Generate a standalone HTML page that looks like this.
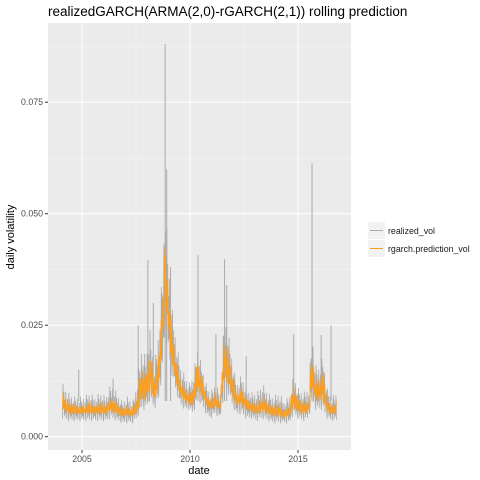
<!DOCTYPE html>
<html><head><meta charset="utf-8"><style>
body{margin:0;background:#fff}
svg{display:block;font-family:"Liberation Sans",sans-serif}
</style></head><body>
<svg id="c" width="480" height="480">
<text x="48" y="16" font-size="13.5" fill="#000">realizedGARCH(ARMA(2,0)-rGARCH(2,1)) rolling prediction</text>
<rect x="48" y="23" width="303" height="427" fill="#ebebeb"/>
<g id="grid"></g>
<g id="series"></g>
<g id="axes"></g>
<text x="199" y="474" font-size="11" text-anchor="middle">date</text>
<text transform="translate(14,237) rotate(-90)" font-size="11" text-anchor="middle">daily volatility</text>
<g>
<rect x="368" y="222" width="17" height="17" fill="#f2f2f2"/>
<line x1="370" y1="230.5" x2="383" y2="230.5" stroke="#aaa" stroke-width="1"/>
<text x="388" y="234" font-size="8.8" fill="#1a1a1a">realized_vol</text>
<rect x="368" y="240" width="17" height="17" fill="#f2f2f2"/>
<line x1="370" y1="248.5" x2="383" y2="248.5" stroke="#ff9e1b" stroke-width="1"/>
<text x="388" y="252" font-size="8.8" fill="#1a1a1a">rgarch.prediction_vol</text>
</g>
</svg>
<script>
// data (values in thousandths of volatility)
const dates=[2004.1,2004.35,2004.6,2004.85,2005.1,2005.35,2005.6,2005.85,2006.1,2006.35,2006.6,2006.85,2007.1,2007.35,2007.55,2007.75,2007.95,2008.15,2008.35,2008.55,2008.75,2008.85,2008.95,2009.15,2009.35,2009.55,2009.75,2009.95,2010.15,2010.35,2010.55,2010.75,2010.95,2011.15,2011.4,2011.6,2011.75,2011.95,2012.15,2012.4,2012.6,2012.85,2013.1,2013.35,2013.6,2013.85,2014.1,2014.35,2014.6,2014.8,2015.0,2015.25,2015.5,2015.65,2015.8,2016.0,2016.15,2016.35,2016.55,2016.8];
const realizedLo=[4,3.5,3.5,3.5,3.5,3.5,3.5,3.5,3.5,4,3.5,3,3,3,4,6,6,8,6,8,15,25,20,14,10,7,6,6,5,8,7,5,4,5,4,10,10,7,5,5,4,4,3.5,4,3.5,3,3,3,3,5,4,3.5,4,8,6,6,6,4,3.5,3.5];
const realizedHi=[12,10,9,9,9,10,9,10,9,12,10,8,9,8,12,20,18,24,16,24,40,55,45,30,22,16,14,12,14,20,16,12,10,12,10,28,24,18,12,14,11,10,10,12,10,9,10,8,9,14,11,10,11,24,16,16,18,11,9,10];
const predLo=[6,5,5,5,5,5,5,5,5,5.5,5,4.5,4.5,4.5,5,8,8,10,8,10,20,30,25,16,12,9,8,7,7,10,9,7,6,6.5,6,12,12,9,7,7,6,5.5,5,5.5,5,4.5,4.5,4,4.5,6,5.5,5,5,10,8,8,8,5.5,5,5];
const predHi=[10,8,7.5,7,7,8,7,8,7,9,8,6.5,7,6.5,9,16,14,20,13,18,35,45,38,26,18,13,11,10,11,18,14,10,8,10,8,24,20,15,10,11,9,8,7.5,9,8,7,7.5,6,7,12,9,8,8,20,13,13,16,9,7,8];
const spikeDates=[2004.85,2006.44,2007.6,2008.05,2008.3,2008.85,2008.92,2009.1,2010.37,2011.2,2011.6,2011.7,2012.6,2014.8,2015.65,2016.07,2016.53];
const spikeValues=[15,13,25,39.6,30,88,60,38,40.7,23,39.8,34,18,23,61.3,22.8,25];
const xTicks=[2005,2010,2015];
const yTicks=[0,0.025,0.05,0.075];
const yTickLabels=["0.000","0.025","0.050","0.075"];

const NS="http://www.w3.org/2000/svg";
const X=t=>82+(t-2005)*21.6;
const Y=v=>436.7-v*4460;
function mk(tag,attrs,parent){const e=document.createElementNS(NS,tag);for(const k in attrs)e.setAttribute(k,attrs[k]);parent.appendChild(e);return e;}
const grid=document.getElementById('grid'),ser=document.getElementById('series'),ax=document.getElementById('axes');
for(let i=0;i<xTicks.length+1;i++){const t=2002.5+i*5;const x=X(t);if(x>48&&x<351){const l=mk('line',{x1:x,x2:x,y1:23,y2:450,stroke:'#f5f5f5','stroke-width':0.6},grid);

}}
for(let i=0;i<yTicks.length;i++){const y=Y(yTicks[i]+0.0125);if(y>23){const l=mk('line',{x1:48,x2:351,y1:y,y2:y,stroke:'#f5f5f5','stroke-width':0.6},grid);

}}
xTicks.forEach(t=>{const x=X(t);
const l=mk('line',{x1:x,x2:x,y1:23,y2:450,stroke:'#fff','stroke-width':1.1},grid);


const tk=mk('line',{x1:x,x2:x,y1:450,y2:453,stroke:'#333'},ax);


const tx=mk('text',{x:x,y:462,'font-size':8.8,fill:'#4d4d4d','text-anchor':'middle'},ax);tx.textContent=t;

});
yTicks.forEach((v,i)=>{const y=Y(v);
const l=mk('line',{x1:48,x2:351,y1:y,y2:y,stroke:'#fff','stroke-width':1.1},grid);


const tk=mk('line',{x1:45,x2:48,y1:y,y2:y,stroke:'#333'},ax);


const tx=mk('text',{x:43,y:y+3,'font-size':8.8,fill:'#4d4d4d','text-anchor':'end'},ax);tx.textContent=yTickLabels[i];

});
const pat=[0,1,0.3,0.8,0.1,0.6,0.2,0.9,0.05,0.5,0.35,0.75,0.15];
function zig(lo,hi,step){let d='';let k=0;
for(let i=0;i<dates.length-1;i++){const x0=X(dates[i]),x1=X(dates[i+1]);const n=Math.max(1,Math.round((x1-x0)/step));
for(let j=0;j<n;j++){const f=j/n;const x=x0+(x1-x0)*f;const l=lo[i]+(lo[i+1]-lo[i])*f,h=hi[i]+(hi[i+1]-hi[i])*f;
const a=pat[k%pat.length];const v=(l+(h-l)*a)/1000;d+=(d?'L':'M')+x.toFixed(2)+' '+Y(v).toFixed(2);k++;}}
return d;}
const r=mk('path',{d:zig(realizedLo,realizedHi,0.45),fill:'none',stroke:'#aaaaaa','stroke-width':0.8},ser);


spikeDates.forEach((t,i)=>{const x=X(t);
const s=mk('line',{x1:x,x2:x,y1:Y(0.008),y2:Y(spikeValues[i]/1000),stroke:'#aaaaaa','stroke-width':1},ser);

});
const p=mk('path',{d:zig(predLo,predHi,0.5),fill:'none',stroke:'#ff9e1b','stroke-width':0.9},ser);


</script>
</body></html>
